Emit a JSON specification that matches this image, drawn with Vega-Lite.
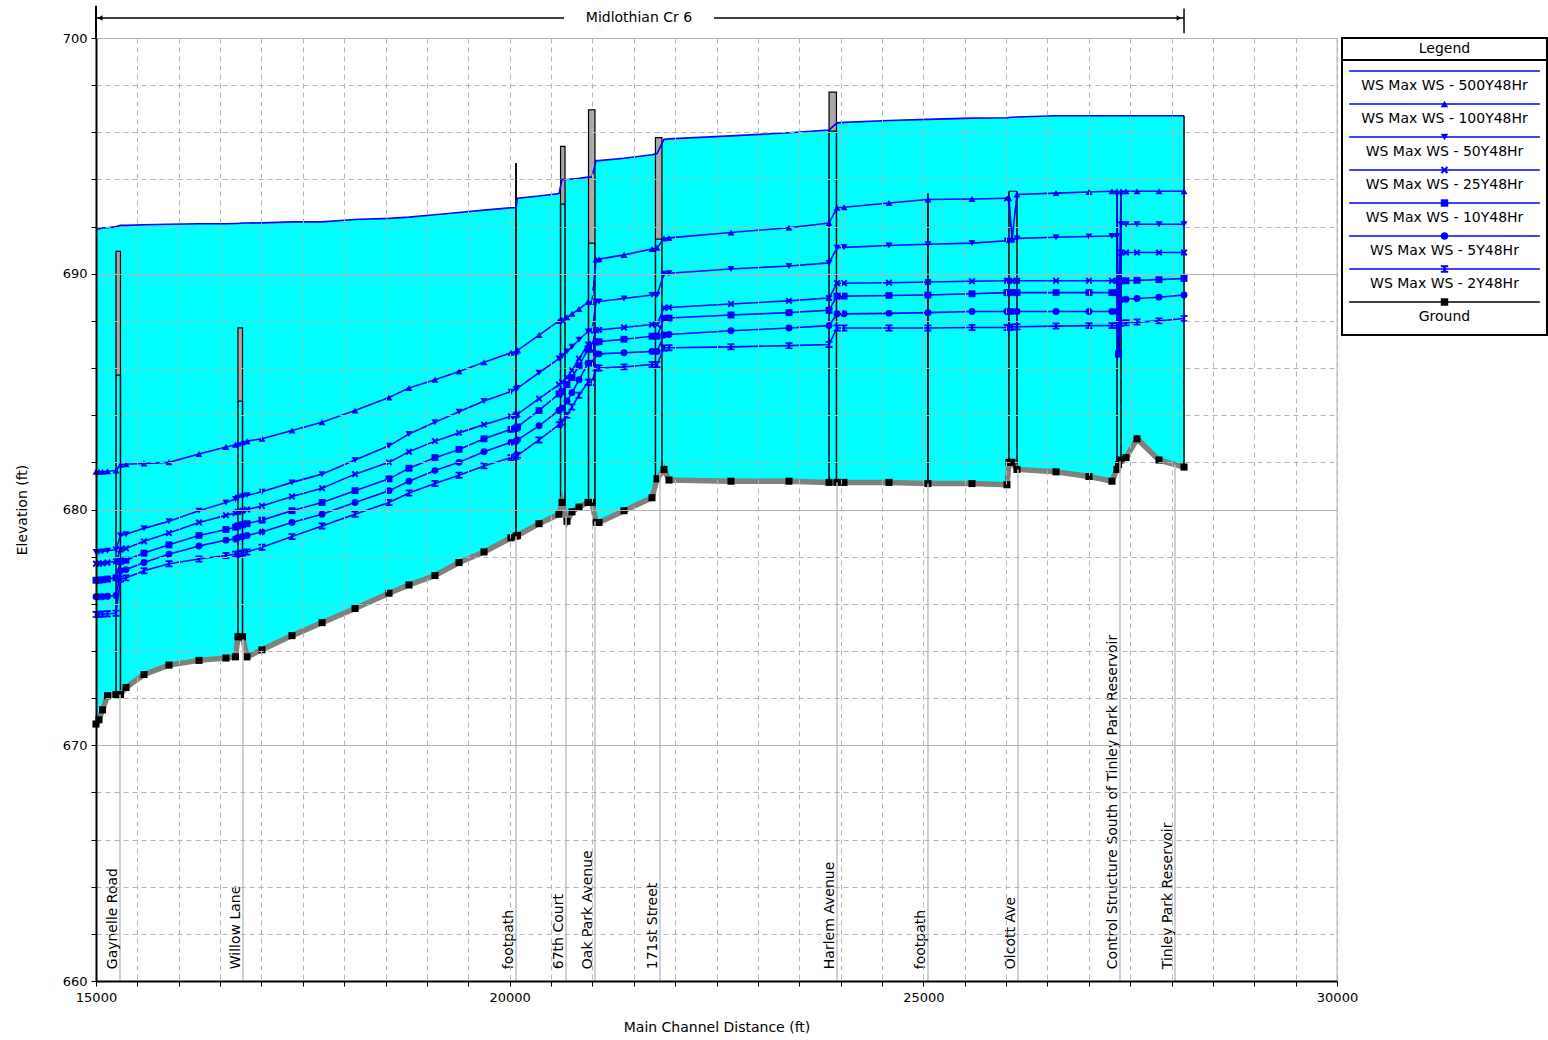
{
  "$schema": "https://vega.github.io/schema/vega-lite/v6.json",
  "autosize": {"type": "pad"},
  "padding": {"left": 15, "top": 4, "right": 0, "bottom": 0},
  "background": "white",
  "bounds": "flush",
  "spacing": 5,
  "config": {"font": "DejaVu Sans", "view": {"stroke": null}},
  "datasets": {
    "prof": [
      {"sta":15000,"ground":670.9,"p500":691.9,"p100":681.6,"p50":678.2,"p25":677.7,"p10":677.0,"p5":676.3,"p2":675.55},
      {"sta":15036,"ground":671.08,"p500":691.9,"p100":681.6,"p50":678.2,"p25":677.7,"p10":677.0,"p5":676.3,"p2":675.55},
      {"sta":15079,"ground":671.5,"p500":691.95,"p100":681.6,"p50":678.22,"p25":677.72,"p10":677.02,"p5":676.3,"p2":675.57},
      {"sta":15139,"ground":672.1,"p500":691.95,"p100":681.62,"p50":678.25,"p25":677.75,"p10":677.05,"p5":676.32,"p2":675.58},
      {"sta":15242,"ground":672.15,"p500":692.0,"p100":681.65,"p50":678.3,"p25":677.8,"p10":677.1,"p5":676.35,"p2":675.6},
      {"sta":15296,"ground":672.15,"p500":692.05,"p100":681.9,"p50":678.9,"p25":678.3,"p10":677.8,"p5":677.4,"p2":677.05},
      {"sta":15363,"ground":672.45,"p500":692.05,"p100":681.92,"p50":678.95,"p25":678.35,"p10":677.85,"p5":677.45,"p2":677.1},
      {"sta":15580,"ground":673.0,"p500":692.08,"p100":681.95,"p50":679.2,"p25":678.65,"p10":678.15,"p5":677.75,"p2":677.4},
      {"sta":15882,"ground":673.4,"p500":692.1,"p100":682.0,"p50":679.5,"p25":679.0,"p10":678.5,"p5":678.1,"p2":677.7},
      {"sta":16245,"ground":673.6,"p500":692.12,"p100":682.35,"p50":679.95,"p25":679.45,"p10":678.9,"p5":678.45,"p2":677.9},
      {"sta":16571,"ground":673.7,"p500":692.12,"p100":682.65,"p50":680.3,"p25":679.75,"p10":679.15,"p5":678.7,"p2":678.05},
      {"sta":16686,"ground":673.75,"p500":692.13,"p100":682.75,"p50":680.45,"p25":679.85,"p10":679.25,"p5":678.75,"p2":678.1},
      {"sta":16716,"ground":674.6,"p500":692.13,"p100":682.8,"p50":680.5,"p25":679.9,"p10":679.3,"p5":678.8,"p2":678.1},
      {"sta":16771,"ground":674.6,"p500":692.15,"p100":682.85,"p50":680.55,"p25":679.95,"p10":679.35,"p5":678.85,"p2":678.15},
      {"sta":16825,"ground":673.75,"p500":692.15,"p100":682.9,"p50":680.6,"p25":680.0,"p10":679.4,"p5":678.9,"p2":678.2},
      {"sta":17006,"ground":674.05,"p500":692.16,"p100":683.0,"p50":680.75,"p25":680.15,"p10":679.55,"p5":679.05,"p2":678.4},
      {"sta":17369,"ground":674.65,"p500":692.2,"p100":683.35,"p50":681.15,"p25":680.55,"p10":679.95,"p5":679.45,"p2":678.85},
      {"sta":17732,"ground":675.2,"p500":692.2,"p100":683.7,"p50":681.5,"p25":680.9,"p10":680.3,"p5":679.8,"p2":679.3},
      {"sta":18131,"ground":675.8,"p500":692.3,"p100":684.2,"p50":682.1,"p25":681.5,"p10":680.8,"p5":680.3,"p2":679.8},
      {"sta":18541,"ground":676.45,"p500":692.35,"p100":684.75,"p50":682.7,"p25":682.0,"p10":681.3,"p5":680.8,"p2":680.3},
      {"sta":18783,"ground":676.8,"p500":692.4,"p100":685.15,"p50":683.2,"p25":682.45,"p10":681.75,"p5":681.2,"p2":680.7},
      {"sta":19097,"ground":677.2,"p500":692.5,"p100":685.5,"p50":683.7,"p25":682.9,"p10":682.2,"p5":681.65,"p2":681.1},
      {"sta":19388,"ground":677.75,"p500":692.6,"p100":685.85,"p50":684.15,"p25":683.25,"p10":682.55,"p5":682.0,"p2":681.45},
      {"sta":19690,"ground":678.2,"p500":692.7,"p100":686.25,"p50":684.6,"p25":683.6,"p10":683.0,"p5":682.45,"p2":681.85},
      {"sta":20016,"ground":678.8,"p500":692.8,"p100":686.65,"p50":685.0,"p25":683.95,"p10":683.4,"p5":682.85,"p2":682.2},
      {"sta":20077,"ground":678.87,"p500":692.8,"p100":686.7,"p50":685.1,"p25":684.0,"p10":683.45,"p5":682.9,"p2":682.25},
      {"sta":20095,"ground":678.9,"p500":693.2,"p100":686.75,"p50":685.15,"p25":684.05,"p10":683.5,"p5":682.95,"p2":682.3},
      {"sta":20355,"ground":679.4,"p500":693.3,"p100":687.4,"p50":685.8,"p25":684.7,"p10":684.2,"p5":683.55,"p2":682.95},
      {"sta":20596,"ground":679.8,"p500":693.4,"p100":688.0,"p50":686.4,"p25":685.3,"p10":684.9,"p5":684.2,"p2":683.6},
      {"sta":20633,"ground":680.3,"p500":694.0,"p100":688.05,"p50":686.5,"p25":685.4,"p10":685.0,"p5":684.3,"p2":683.7},
      {"sta":20693,"ground":679.5,"p500":694.0,"p100":688.15,"p50":686.7,"p25":685.6,"p10":685.3,"p5":684.6,"p2":684.0},
      {"sta":20753,"ground":679.9,"p500":694.02,"p100":688.3,"p50":686.9,"p25":685.9,"p10":685.6,"p5":684.95,"p2":684.35},
      {"sta":20838,"ground":680.1,"p500":694.05,"p100":688.5,"p50":687.2,"p25":686.4,"p10":686.1,"p5":685.5,"p2":684.85},
      {"sta":20947,"ground":680.3,"p500":694.1,"p100":688.8,"p50":687.55,"p25":687.0,"p10":686.8,"p5":686.2,"p2":685.4},
      {"sta":20995,"ground":680.3,"p500":694.1,"p100":688.8,"p50":687.55,"p25":687.0,"p10":686.8,"p5":686.2,"p2":685.4},
      {"sta":21044,"ground":679.45,"p500":694.8,"p100":690.6,"p50":688.8,"p25":687.6,"p10":687.1,"p5":686.6,"p2":686.0},
      {"sta":21080,"ground":679.45,"p500":694.8,"p100":690.62,"p50":688.82,"p25":687.62,"p10":687.12,"p5":686.6,"p2":686.0},
      {"sta":21382,"ground":679.95,"p500":694.9,"p100":690.8,"p50":688.95,"p25":687.72,"p10":687.22,"p5":686.65,"p2":686.05},
      {"sta":21720,"ground":680.5,"p500":695.05,"p100":691.05,"p50":689.1,"p25":687.85,"p10":687.35,"p5":686.7,"p2":686.15},
      {"sta":21781,"ground":681.3,"p500":695.1,"p100":691.1,"p50":689.1,"p25":687.85,"p10":687.35,"p5":686.7,"p2":686.15},
      {"sta":21866,"ground":681.7,"p500":695.7,"p100":691.5,"p50":690.0,"p25":688.55,"p10":688.1,"p5":687.4,"p2":686.85},
      {"sta":21926,"ground":681.25,"p500":695.72,"p100":691.52,"p50":690.02,"p25":688.57,"p10":688.12,"p5":687.42,"p2":686.86},
      {"sta":22675,"ground":681.2,"p500":695.85,"p100":691.75,"p50":690.2,"p25":688.72,"p10":688.25,"p5":687.58,"p2":686.9},
      {"sta":23376,"ground":681.2,"p500":695.98,"p100":691.95,"p50":690.33,"p25":688.85,"p10":688.35,"p5":687.7,"p2":686.95},
      {"sta":23860,"ground":681.15,"p500":696.1,"p100":692.15,"p50":690.46,"p25":688.97,"p10":688.45,"p5":687.8,"p2":687.0},
      {"sta":23957,"ground":681.15,"p500":696.4,"p100":692.8,"p50":691.1,"p25":689.6,"p10":689.05,"p5":688.3,"p2":687.7},
      {"sta":24041,"ground":681.15,"p500":696.42,"p100":692.82,"p50":691.12,"p25":689.6,"p10":689.05,"p5":688.3,"p2":687.7},
      {"sta":24585,"ground":681.15,"p500":696.5,"p100":693.0,"p50":691.2,"p25":689.62,"p10":689.08,"p5":688.32,"p2":687.7},
      {"sta":25056,"ground":681.1,"p500":696.55,"p100":693.15,"p50":691.25,"p25":689.65,"p10":689.1,"p5":688.35,"p2":687.7},
      {"sta":25588,"ground":681.1,"p500":696.6,"p100":693.17,"p50":691.3,"p25":689.68,"p10":689.15,"p5":688.4,"p2":687.72},
      {"sta":26011,"ground":681.05,"p500":696.62,"p100":693.2,"p50":691.4,"p25":689.7,"p10":689.2,"p5":688.4,"p2":687.72},
      {"sta":26035,"ground":682.0,"p500":696.63,"p100":693.2,"p50":691.4,"p25":689.7,"p10":689.2,"p5":688.4,"p2":687.72},
      {"sta":26072,"ground":682.0,"p500":696.64,"p100":691.45,"p50":691.4,"p25":689.7,"p10":689.2,"p5":688.4,"p2":687.74},
      {"sta":26132,"ground":681.7,"p500":696.65,"p100":693.36,"p50":691.5,"p25":689.7,"p10":689.2,"p5":688.4,"p2":687.75},
      {"sta":26604,"ground":681.6,"p500":696.7,"p100":693.42,"p50":691.55,"p25":689.7,"p10":689.2,"p5":688.4,"p2":687.78},
      {"sta":27002,"ground":681.4,"p500":696.7,"p100":693.47,"p50":691.58,"p25":689.7,"p10":689.2,"p5":688.4,"p2":687.8},
      {"sta":27280,"ground":681.2,"p500":696.7,"p100":693.5,"p50":691.6,"p25":689.7,"p10":689.2,"p5":688.4,"p2":687.8},
      {"sta":27341,"ground":681.7,"p500":696.7,"p100":693.5,"p50":691.6,"p25":689.7,"p10":689.2,"p5":688.4,"p2":687.8},
      {"sta":27359,"ground":681.9,"p500":696.7,"p100":686.6,"p50":686.6,"p25":686.6,"p10":686.6,"p5":686.6,"p2":686.6},
      {"sta":27389,"ground":682.1,"p500":696.7,"p100":693.5,"p50":692.1,"p25":690.9,"p10":689.7,"p5":688.9,"p2":687.9},
      {"sta":27450,"ground":682.2,"p500":696.7,"p100":693.5,"p50":692.1,"p25":690.9,"p10":689.7,"p5":688.92,"p2":687.92},
      {"sta":27583,"ground":683.0,"p500":696.7,"p100":693.5,"p50":692.1,"p25":690.9,"p10":689.72,"p5":688.95,"p2":687.95},
      {"sta":27848,"ground":682.1,"p500":696.7,"p100":693.5,"p50":692.1,"p25":690.9,"p10":689.75,"p5":689.0,"p2":688.0},
      {"sta":28151,"ground":681.8,"p500":696.7,"p100":693.5,"p50":692.1,"p25":690.9,"p10":689.8,"p5":689.1,"p2":688.1}
    ],
    "bridges": [
      {"name":"Gaynelle Road","xu":15242,"xd":15296,"low":685.7,"high":690.95,"gu":672.15,"gd":672.15},
      {"name":"Willow Lane","xu":16716,"xd":16771,"low":684.6,"high":687.7,"gu":674.6,"gd":674.6},
      {"name":"footpath","xu":20077,"xd":20077,"low":694.7,"high":694.7,"gu":678.87,"gd":678.87},
      {"name":"67th Court","xu":20615,"xd":20669,"low":692.95,"high":695.4,"gu":680.05,"gd":679.8},
      {"name":"Oak Park Avenue","xu":20953,"xd":21031,"low":691.3,"high":696.95,"gu":680.3,"gd":679.45},
      {"name":"171st Street","xu":21762,"xd":21841,"low":691.47,"high":695.77,"gu":681.0,"gd":681.6},
      {"name":"Harlem Avenue","xu":23860,"xd":23950,"low":696.05,"high":697.7,"gu":681.15,"gd":681.15},
      {"name":"footpath","xu":25056,"xd":25056,"low":693.4,"high":693.4,"gu":681.1,"gd":681.1},
      {"name":"Olcott Ave","xu":26035,"xd":26132,"low":693.5,"high":693.5,"gu":682.0,"gd":681.7},
      {"name":"Control Structure","xu":27341,"xd":27389,"low":693.45,"high":693.45,"gu":681.7,"gd":682.1}
    ],
    "labels": [
      {"label":"Gaynelle Road","sta":15290,"gnd":672.15},
      {"label":"Willow Lane","sta":16777,"gnd":674.5},
      {"label":"footpath","sta":20077,"gnd":678.87},
      {"label":"67th Court","sta":20681,"gnd":679.7},
      {"label":"Oak Park Avenue","sta":21031,"gnd":679.5},
      {"label":"171st Street","sta":21817,"gnd":681.55},
      {"label":"Harlem Avenue","sta":23957,"gnd":681.15},
      {"label":"footpath","sta":25056,"gnd":681.1},
      {"label":"Olcott Ave","sta":26144,"gnd":681.7},
      {"label":"Control Structure South of Tinley Park Reservoir","sta":27377,"gnd":682.05},
      {"label":"Tinley Park Reservoir","sta":28042,"gnd":681.9}
    ],
    "legend": [
      {"series":"p500","label":"WS  Max WS - 500Y48Hr","i":1},
      {"series":"p100","label":"WS  Max WS - 100Y48Hr","i":2},
      {"series":"p50","label":"WS  Max WS - 50Y48Hr","i":3},
      {"series":"p25","label":"WS  Max WS - 25Y48Hr","i":4},
      {"series":"p10","label":"WS  Max WS - 10Y48Hr","i":5},
      {"series":"p5","label":"WS  Max WS - 5Y48Hr","i":6},
      {"series":"p2","label":"WS  Max WS - 2Y48Hr","i":7},
      {"series":"ground","label":"Ground","i":8}
    ]
  },
  "hconcat": [
    {
      "width": 1241,
      "height": 943,
      "view": {"stroke": null},
      "layer": [
        {
          "data": {"name": "prof"},
          "mark": {"type": "area", "color": "#00ffff", "opacity": 1},
          "encoding": {
            "x": {"field": "sta", "type": "quantitative",
              "scale": {"domain": [15000, 30000], "nice": false, "zero": false},
              "axis": {
                "values": [15000,15500,16000,16500,17000,17500,18000,18500,19000,19500,20000,20500,21000,21500,22000,22500,23000,23500,24000,24500,25000,25500,26000,26500,27000,27500,28000,28500,29000,29500,30000],
                "format": "d",
                "labelExpr": "datum.value % 5000 === 0 ? datum.label : ''",
                "labelOverlap": false, "labelFlush": false, "labelBound": false,
                "title": "Main Channel Distance (ft)",
                "grid": true, "gridDash": [5, 4], "gridColor": "#b4b4b4", "gridWidth": 1,
                "domainColor": "black", "domainWidth": 2,
                "tickColor": "black", "tickSize": 5, "tickWidth": 1,
                "labelPadding": 5, "labelFontSize": 13, "labelColor": "black",
                "titleFontSize": 14, "titleFontWeight": "normal", "titleColor": "black", "titlePadding": 16,
                "zindex": 1
              }
            },
            "y": {"field": "p500", "type": "quantitative",
              "scale": {"domain": [660, 700], "nice": false, "zero": false},
              "axis": {
                "values": [660,662,664,666,668,670,672,674,676,678,680,682,684,686,688,690,692,694,696,698,700],
                "labelExpr": "datum.value % 10 === 0 ? datum.label : ''",
                "labelOverlap": false, "labelFlush": false, "labelBound": false,
                "title": "Elevation (ft)",
                "grid": true,
                "gridDash": {"condition": {"test": "datum.value % 10 === 0", "value": []}, "value": [5, 4]},
                "gridColor": "#b4b4b4", "gridWidth": 1,
                "domainColor": "black", "domainWidth": 2,
                "tickColor": "black", "tickSize": 5, "tickWidth": 1,
                "labelPadding": 4, "labelFontSize": 13, "labelColor": "black",
                "titleFontSize": 14, "titleFontWeight": "normal", "titleColor": "black", "titlePadding": 33,
                "zindex": 1
              }
            },
            "y2": {"field": "ground"}
          }
        },
        {
          "data": {"name": "prof"},
          "transform": [{"filter": "datum.sta === 28151"}],
          "mark": {"type": "rule", "color": "black", "strokeWidth": 1.5},
          "encoding": {
            "x": {"field": "sta", "type": "quantitative"},
            "y": {"field": "ground", "type": "quantitative"},
            "y2": {"field": "p500"}
          }
        },
        {
          "data": {"name": "bridges"},
          "mark": {"type": "rect", "fill": "#a8a8a8", "stroke": "black", "strokeWidth": 1.2},
          "encoding": {
            "x": {"field": "xu", "type": "quantitative"},
            "x2": {"field": "xd"},
            "y": {"field": "low", "type": "quantitative"},
            "y2": {"field": "high"}
          }
        },
        {
          "data": {"name": "bridges"},
          "mark": {"type": "rule", "color": "black", "strokeWidth": 1.5},
          "encoding": {
            "x": {"field": "xu", "type": "quantitative"},
            "y": {"field": "low", "type": "quantitative"},
            "y2": {"field": "gu"}
          }
        },
        {
          "data": {"name": "bridges"},
          "mark": {"type": "rule", "color": "black", "strokeWidth": 1.5},
          "encoding": {
            "x": {"field": "xd", "type": "quantitative"},
            "y": {"field": "low", "type": "quantitative"},
            "y2": {"field": "gd"}
          }
        },
        {
          "data": {"name": "prof"},
          "transform": [{"fold": ["p500","p100","p50","p25","p10","p5","p2"], "as": ["series", "wse"]}],
          "mark": {"type": "line", "color": "#0000ff", "strokeWidth": 1.6},
          "encoding": {
            "x": {"field": "sta", "type": "quantitative"},
            "y": {"field": "wse", "type": "quantitative"},
            "detail": {"field": "series", "type": "nominal"}
          }
        },
        {
          "data": {"name": "prof"},
          "transform": [
            {"fold": ["p100","p50","p25","p10","p5","p2"], "as": ["series", "wse"]}
          ],
          "mark": {"type": "point", "filled": true, "color": "#0000ff", "opacity": 1, "size": 48},
          "encoding": {
            "x": {"field": "sta", "type": "quantitative"},
            "y": {"field": "wse", "type": "quantitative"},
            "shape": {"field": "series", "type": "nominal",
              "scale": {"domain": ["p100","p50","p25","p10","p5","p2","ground"],
                "range": ["triangle-up","triangle-down","M-1,-0.6L-0.6,-1L0,-0.4L0.6,-1L1,-0.6L0.4,0L1,0.6L0.6,1L0,0.4L-0.6,1L-1,0.6L-0.4,0Z","square","circle","M-1,-1H1V-0.5H0.35V0.5H1V1H-1V0.5H-0.35V-0.5H-1Z","square"]},
              "legend": null}
          }
        },
        {
          "data": {"name": "prof"},
          "mark": {"type": "line", "color": "#808080", "strokeWidth": 5.5},
          "encoding": {
            "x": {"field": "sta", "type": "quantitative"},
            "y": {"field": "ground", "type": "quantitative"}
          }
        },
        {
          "data": {"name": "prof"},
          "mark": {"type": "point", "shape": "square", "filled": true, "color": "black", "opacity": 1, "size": 50},
          "encoding": {
            "x": {"field": "sta", "type": "quantitative"},
            "y": {"field": "ground", "type": "quantitative"}
          }
        },
        {
          "data": {"name": "labels"},
          "mark": {"type": "rule", "color": "#c0c0c0", "strokeWidth": 1.5},
          "encoding": {
            "x": {"field": "sta", "type": "quantitative"},
            "y": {"field": "gnd", "type": "quantitative"},
            "y2": {"datum": 660}
          }
        },
        {
          "data": {"name": "labels"},
          "mark": {"type": "text", "angle": 270, "align": "left", "baseline": "bottom", "fontSize": 14, "color": "black"},
          "encoding": {
            "x": {"field": "sta", "type": "quantitative"},
            "y": {"datum": 660.5, "type": "quantitative"},
            "text": {"field": "label"}
          }
        },
        {
          "data": {"values": [{}]},
          "mark": {"type": "rule", "color": "black", "strokeWidth": 1.5},
          "encoding": {
            "x": {"datum": 15000, "type": "quantitative"},
            "x2": {"datum": 20657},
            "y": {"datum": 700.85, "type": "quantitative"}
          }
        },
        {
          "data": {"values": [{}]},
          "mark": {"type": "rule", "color": "black", "strokeWidth": 1.5},
          "encoding": {
            "x": {"datum": 22470, "type": "quantitative"},
            "x2": {"datum": 28151},
            "y": {"datum": 700.85, "type": "quantitative"}
          }
        },
        {
          "data": {"values": [{}]},
          "mark": {"type": "text", "fontSize": 14, "align": "center", "baseline": "middle", "color": "black", "text": "Midlothian Cr 6"},
          "encoding": {
            "x": {"datum": 21563, "type": "quantitative"},
            "y": {"datum": 700.85, "type": "quantitative"}
          }
        },
        {
          "data": {"values": [{}]},
          "mark": {"type": "point", "shape": "triangle-left", "filled": true, "color": "black", "opacity": 1, "size": 30},
          "encoding": {
            "x": {"datum": 15050, "type": "quantitative"},
            "y": {"datum": 700.85, "type": "quantitative"}
          }
        },
        {
          "data": {"values": [{}]},
          "mark": {"type": "point", "shape": "triangle-right", "filled": true, "color": "black", "opacity": 1, "size": 30},
          "encoding": {
            "x": {"datum": 28090, "type": "quantitative"},
            "y": {"datum": 700.85, "type": "quantitative"}
          }
        },
        {
          "data": {"values": [{}]},
          "mark": {"type": "rule", "color": "black", "strokeWidth": 1.5},
          "encoding": {
            "x": {"datum": 28151, "type": "quantitative"},
            "y": {"datum": 700.2, "type": "quantitative"},
            "y2": {"datum": 701.25}
          }
        },
        {
          "data": {"values": [{}]},
          "mark": {"type": "rule", "color": "black", "strokeWidth": 2},
          "encoding": {
            "x": {"datum": 15000, "type": "quantitative"},
            "y": {"datum": 700, "type": "quantitative"},
            "y2": {"datum": 701.37}
          }
        },
        {
          "data": {"values": [{}]},
          "mark": {"type": "rule", "color": "#b4b4b4", "strokeWidth": 1},
          "encoding": {
            "x": {"datum": 30000, "type": "quantitative"},
            "y": {"datum": 660, "type": "quantitative"},
            "y2": {"datum": 700}
          }
        }
      ]
    },
    {
      "width": 205,
      "height": 297,
      "view": {"stroke": "black", "strokeWidth": 2},
      "data": {"name": "legend"},
      "layer": [
        {
          "mark": {"type": "rule", "strokeWidth": 1.5},
          "encoding": {
            "x": {"datum": 0.035, "type": "quantitative", "scale": {"domain": [0, 1], "nice": false}, "axis": null},
            "x2": {"datum": 0.965},
            "y": {"field": "i", "type": "quantitative", "scale": {"domain": [0, 9], "reverse": true, "nice": false}, "axis": null},
            "color": {"condition": {"test": "datum.series === 'ground'", "value": "black"}, "value": "#0000ff"}
          }
        },
        {
          "transform": [{"filter": "datum.series !== 'p500'"}],
          "mark": {"type": "point", "filled": true, "opacity": 1, "size": 55},
          "encoding": {
            "x": {"datum": 0.5, "type": "quantitative"},
            "y": {"field": "i", "type": "quantitative"},
            "shape": {"field": "series", "type": "nominal",
              "scale": {"domain": ["p100","p50","p25","p10","p5","p2","ground"],
                "range": ["triangle-up","triangle-down","M-1,-0.6L-0.6,-1L0,-0.4L0.6,-1L1,-0.6L0.4,0L1,0.6L0.6,1L0,0.4L-0.6,1L-1,0.6L-0.4,0Z","square","circle","M-1,-1H1V-0.5H0.35V0.5H1V1H-1V0.5H-0.35V-0.5H-1Z","square"]},
              "legend": null},
            "color": {"condition": {"test": "datum.series === 'ground'", "value": "black"}, "value": "#0000ff"}
          }
        },
        {
          "mark": {"type": "text", "fontSize": 14, "dy": 15, "baseline": "middle", "align": "center", "color": "black"},
          "encoding": {
            "x": {"datum": 0.5, "type": "quantitative"},
            "y": {"field": "i", "type": "quantitative"},
            "text": {"field": "label"}
          }
        },
        {
          "data": {"values": [{}]},
          "mark": {"type": "text", "fontSize": 14, "baseline": "middle", "align": "center", "color": "black", "text": "Legend"},
          "encoding": {
            "x": {"datum": 0.5, "type": "quantitative"},
            "y": {"datum": 0.33, "type": "quantitative"}
          }
        },
        {
          "data": {"values": [{}]},
          "mark": {"type": "rule", "color": "black", "strokeWidth": 2},
          "encoding": {
            "x": {"datum": 0, "type": "quantitative"},
            "x2": {"datum": 1},
            "y": {"datum": 0.67, "type": "quantitative"}
          }
        }
      ]
    }
  ]
}
